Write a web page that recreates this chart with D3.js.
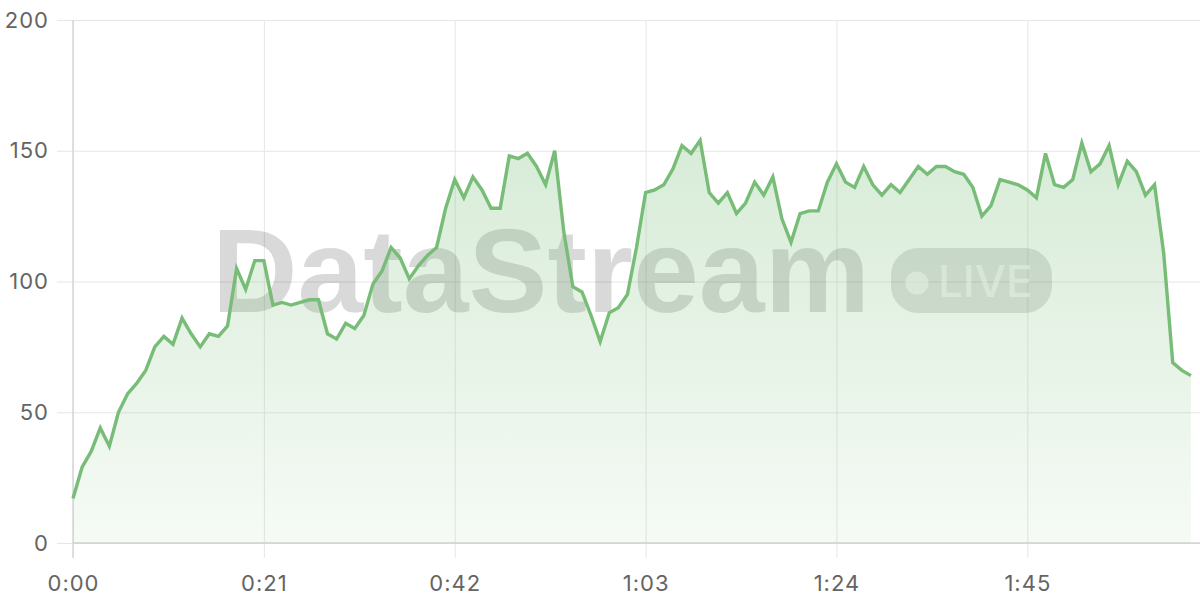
<!DOCTYPE html>
<html>
<head>
<meta charset="utf-8">
<script src="https://cdn.jsdelivr.net/npm/d3@7/dist/d3.min.js"></script>
<style>
  html, body { margin: 0; padding: 0; background: #fff; }
  svg { display: block; }
</style>
</head>
<body>
<svg id="chart" width="1200" height="600"></svg>
<script>
// Seconds elapsed (one sample per second)
const seconds = d3.range(0, 124);
// Series values
const values = [
  17, 29, 35, 44, 37, 50, 57, 61, 66, 75,
  79, 76, 86, 80, 75, 80, 79, 83, 105, 97,
  108, 108, 91, 92, 91, 92, 93, 93, 80, 78,
  84, 82, 87, 99, 104, 113, 109, 101, 106, 110,
  113, 128, 139, 132, 140, 135, 128, 128, 148, 147,
  149, 144, 137, 150, 119, 98, 96, 87, 77, 88,
  90, 95, 113, 134, 135, 137, 143, 152, 149, 154,
  134, 130, 134, 126, 130, 138, 133, 140, 124, 115,
  126, 127, 127, 138, 145, 138, 136, 144, 137, 133,
  137, 134, 139, 144, 141, 144, 144, 142, 141, 136,
  125, 129, 139, 138, 137, 135, 132, 149, 137, 136,
  139, 153, 142, 145, 152, 137, 146, 142, 133, 137,
  111, 69, 66, 64
];
const xTicks = [0, 21, 42, 63, 84, 105];
const xTickLabels = ["0:00", "0:21", "0:42", "1:03", "1:24", "1:45"];
const yTicks = [0, 50, 100, 150, 200];
const brand = "DataStream";
const badge = "LIVE";

const data = seconds.map((s, i) => ({ s, v: values[i] }));

const W = 1200, H = 600;
const margin = { top: 20, right: 0, bottom: 57, left: 73 };
const svg = d3.select("#chart");

const x = d3.scaleLinear().domain([0, 124]).range([margin.left, W - margin.right]);
const y = d3.scaleLinear().domain([0, 200]).range([H - margin.bottom, margin.top]);

const lineColor = "#77bc77";
const labelFont = "Inter, 'Liberation Sans', sans-serif";

// gradient
const defs = svg.append("defs");
const grad = defs.append("linearGradient")
  .attr("id", "areaGrad").attr("gradientUnits", "userSpaceOnUse")
  .attr("x1", 0).attr("x2", 0).attr("y1", y(160)).attr("y2", y(0));
grad.append("stop").attr("offset", "0%").attr("stop-color", lineColor).attr("stop-opacity", 0.3);
grad.append("stop").attr("offset", "100%").attr("stop-color", lineColor).attr("stop-opacity", 0.07);

// horizontal gridlines + y labels
const yAxisG = svg.append("g").attr("transform", `translate(${margin.left},0)`)
  .call(d3.axisLeft(y).tickValues(yTicks).tickSize(16).tickPadding(8).tickFormat(d3.format("d")));
yAxisG.select(".domain").remove();
yAxisG.selectAll(".tick line").attr("stroke", "#e6e6e6").attr("x2", W - margin.left).attr("x1", -16);
yAxisG.selectAll(".tick text")
  .attr("fill", "#646464").attr("font-family", labelFont)
  .attr("font-size", 22).attr("letter-spacing", 1).attr("x", -24);

// vertical gridlines + x labels
const xAxisG = svg.append("g").attr("transform", `translate(0,${H - margin.bottom})`)
  .call(d3.axisBottom(x).tickValues(xTicks).tickSize(15).tickPadding(14)
    .tickFormat((d, i) => xTickLabels[i]));
xAxisG.select(".domain").remove();
xAxisG.selectAll(".tick line").attr("stroke", "#e6e6e6").attr("y1", -(H - margin.bottom - margin.top)).attr("y2", 15);
xAxisG.selectAll(".tick text")
  .attr("fill", "#646464").attr("font-family", labelFont)
  .attr("font-size", 22).attr("letter-spacing", 1).attr("dy", "0.85em");

// watermark
const plotCx = 632;
const wm = svg.append("g").attr("class", "watermark");
const wmText = wm.append("text").text(brand)
  .attr("font-family", "'Liberation Sans', Arial, sans-serif").attr("font-weight", 700)
  .attr("font-size", 118).attr("fill", "rgba(0,0,0,0.15)").attr("y", 312);
let tw = wmText.node().getComputedTextLength();
const fs = 118 * 658 / tw;
wmText.attr("font-size", fs);
tw = wmText.node().getComputedTextLength();
const pillW = 161, gap = 21;
const total = tw + gap + pillW;
const startX = plotCx - total / 2;
wmText.attr("x", startX);
const pillX = startX + tw + gap;
wm.append("rect").attr("x", pillX).attr("y", 248).attr("width", pillW).attr("height", 65)
  .attr("rx", 27).attr("fill", "rgba(0,0,0,0.12)");
wm.append("circle").attr("cx", pillX + 26).attr("cy", 283).attr("r", 11.5)
  .attr("fill", "rgba(255,255,255,0.6)");
wm.append("text").text(badge).attr("x", pillX + 47).attr("y", 297)
  .attr("font-family", "Inter, 'Liberation Sans', sans-serif").attr("font-weight", 500)
  .attr("font-size", 44).attr("fill", "rgba(255,255,255,0.6)");

// y axis line
svg.append("line").attr("x1", margin.left).attr("x2", margin.left)
  .attr("y1", margin.top).attr("y2", H - margin.bottom + 15).attr("stroke", "#d6d6d6").attr("stroke-width", 1.5);

// area + line
const area = d3.area().x(d => x(d.s)).y0(y(0)).y1(d => y(d.v));
svg.append("path").datum(data).attr("d", area).attr("fill", "url(#areaGrad)");

svg.append("line").attr("x1", margin.left).attr("x2", W - margin.right)
  .attr("y1", y(0)).attr("y2", y(0)).attr("stroke", "#d0d0d0").attr("stroke-width", 1.5);

const line = d3.line().x(d => x(d.s)).y(d => y(d.v));
svg.append("path").datum(data).attr("d", line)
  .attr("fill", "none").attr("stroke", lineColor).attr("stroke-width", 3.4)
  .attr("stroke-linejoin", "miter").attr("stroke-linecap", "butt");
</script>
</body>
</html>
